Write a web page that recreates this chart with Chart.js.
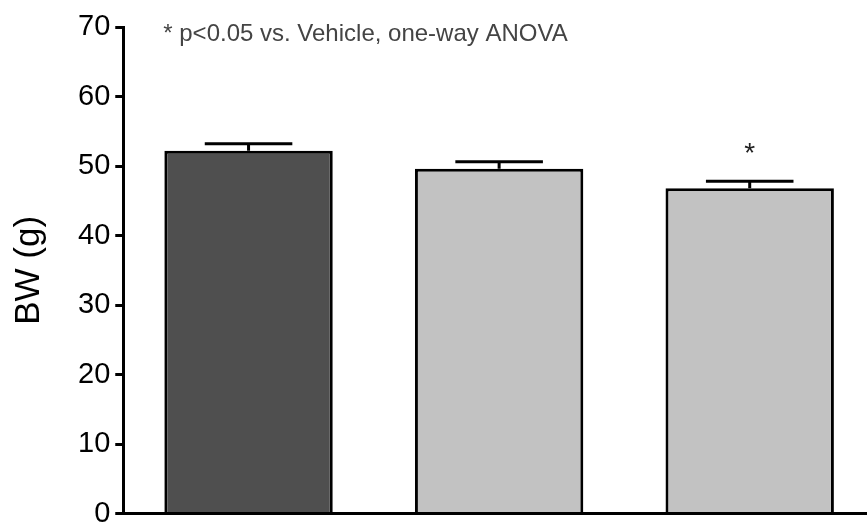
<!DOCTYPE html>
<html>
<head>
<meta charset="utf-8">
<script src="https://cdn.jsdelivr.net/npm/chart.js@4.4.1/dist/chart.umd.min.js"></script>
<style>
  html, body { margin: 0; padding: 0; background: #fff; overflow: hidden; height: 523px; }
  #wrap { width: 875px; height: 536px; position: relative; }
</style>
</head>
<body>
<div id="wrap"><canvas id="bwChart"></canvas></div>
<script>
// data
const groups = ['Vehicle', 'Dose 1', 'Dose 2'];
const bwMeans = [52.2, 49.6, 46.8];
const bwSem = [1.0, 1.0, 1.0];
const significant = [false, false, true];
const yTicks = [0, 10, 20, 30, 40, 50, 60, 70];
const noteText = '* p<0.05 vs. Vehicle, one-way ANOVA';

const fills = ['#4f4f4f', '#c2c2c2', '#c2c2c2'];
const FONT = '"Liberation Sans", Arial, sans-serif';

// error bars (upper only), asterisk and note
const extras = {
    id: 'extras',
    afterDatasetsDraw(chart) {
        const ctx = chart.ctx;
        const x = chart.scales.x, y = chart.scales.y;
        const meta = chart.getDatasetMeta(0);
        ctx.save();
        ctx.strokeStyle = '#000';
        ctx.lineWidth = 3;
        bwMeans.forEach((m, i) => {
            const cx = x.getPixelForValue(i);
            const top = y.getPixelForValue(m + bwSem[i]);
            const base = y.getPixelForValue(m);
            const half = meta.data[i].width * 0.26;
            ctx.beginPath();
            ctx.moveTo(cx, base); ctx.lineTo(cx, top);
            ctx.moveTo(cx - half, top); ctx.lineTo(cx + half, top);
            ctx.stroke();
            if (significant[i]) {
                ctx.fillStyle = '#222';
                ctx.font = '28px ' + FONT;
                ctx.textAlign = 'center';
                ctx.textBaseline = 'middle';
                ctx.fillText('*', cx, top - 27);
            }
        });
        ctx.fillStyle = '#444';
        ctx.font = '24px ' + FONT;
        ctx.textAlign = 'left';
        ctx.textBaseline = 'middle';
        ctx.fillText(noteText, chart.chartArea.left + 40, y.getPixelForValue(69));
        ctx.restore();
    }
};

new Chart(document.getElementById('bwChart'), {
    type: 'bar',
    data: {
        labels: groups,
        datasets: [{
            data: bwMeans,
            backgroundColor: fills,
            borderColor: '#000',
            borderWidth: 3,
            borderSkipped: 'bottom',
            barPercentage: 0.8,
            categoryPercentage: 0.84
        }]
    },
    options: {
        responsive: true,
        maintainAspectRatio: false,
        animation: false,
        layout: { padding: { top: 27, bottom: 0, left: 4, right: 0 } },
        plugins: { legend: { display: false }, tooltip: { enabled: false } },
        scales: {
            x: {
                grid: { display: false, drawTicks: false },
                border: { display: true, color: '#000', width: 3 },
                ticks: { display: false, padding: 0 }
            },
            y: {
                min: 0,
                max: 70,
                afterBuildTicks: s => { s.ticks = yTicks.map(v => ({ value: v })); },
                grid: { drawOnChartArea: false, drawTicks: true, tickLength: 8, color: '#000', lineWidth: 3 },
                border: { display: true, color: '#000', width: 3 },
                ticks: {
                    color: '#000',
                    padding: 5,
                    font: { family: FONT, size: 29 }
                },
                title: {
                    display: true,
                    text: 'BW (g)',
                    color: '#000',
                    padding: { bottom: 23 },
                    font: { family: FONT, size: 35 }
                }
            }
        }
    },
    plugins: [extras]
});
</script>
</body>
</html>
